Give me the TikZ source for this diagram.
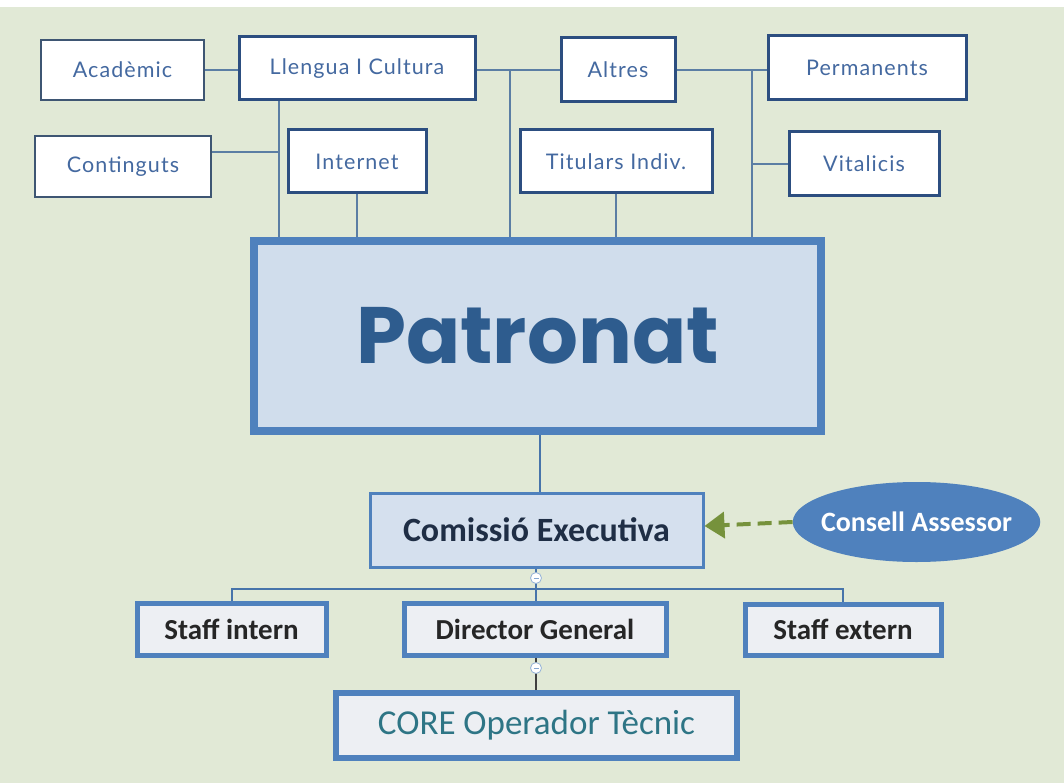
\documentclass[tikz,border=0pt]{standalone}
\usepackage{fontspec}
\setmainfont{Lato}
\newfontfamily\carfont{Carlito}
\newfontfamily\topfont[LetterSpace=5]{Lato}
\newfontfamily\patfont{Poppins}
\usetikzlibrary{arrows.meta,shapes.geometric}
\definecolor{bg}{HTML}{E1E9D6}
\definecolor{thinb}{HTML}{3E5673}
\definecolor{thickb}{HTML}{2C4E80}
\definecolor{conn}{HTML}{5B7EA4}
\definecolor{topt}{HTML}{4469A0}
\definecolor{patb}{HTML}{4F81BD}
\definecolor{patf}{HTML}{D0DDEC}
\definecolor{patt}{HTML}{2E5C8E}
\definecolor{botf}{HTML}{EDEFF3}
\definecolor{corett}{HTML}{2E7585}
\definecolor{comt}{HTML}{1F2E45}
\definecolor{arrg}{HTML}{76923C}
\begin{document}
\begin{tikzpicture}[x=1pt,y=-1pt,
  topbox/.style={draw=thickb,line width=3pt,fill=white,text=topt,font=\topfont\fontsize{21.5}{24}\selectfont,inner sep=0pt},
  thinbox/.style={draw=thinb,line width=1.8pt,fill=white,text=topt,font=\topfont\fontsize{21.5}{24}\selectfont,inner sep=0pt},
  conline/.style={draw=conn,line width=2.8pt},
  botbox/.style={draw=patb,line width=5pt,fill=botf,font=\carfont\bfseries\fontsize{29}{32}\selectfont,text=black!85,inner sep=0pt},
  minusc/.style={circle,draw=patb!60,fill=white,line width=0.8pt,minimum size=11pt,inner sep=0pt},
  thinline/.style={draw=patb!90!black,line width=1.5pt}]
\useasboundingbox (0,0) rectangle (1064,783);
\fill[white] (0,0) rectangle (1064,783);
\fill[bg] (0,7) rectangle (1064,783);

% top nodes
\node[thinbox,minimum width=163pt,minimum height=60pt] (acad) at (122.5,70) {Acadèmic};
\node[topbox,minimum width=236pt,minimum height=63pt] (llen) at (357,68.5) {Llengua I Cultura};
\node[topbox,minimum width=114pt,minimum height=64pt] (alt) at (618,70) {Altres};
\node[topbox,minimum width=198pt,minimum height=64pt] (perm) at (867,67.5) {Permanents};
\node[thinbox,minimum width=176pt,minimum height=61pt] (cont) at (123,166.5) {Continguts};
\node[topbox,minimum width=138pt,minimum height=63pt] (inet) at (357,161.5) {Internet};
\node[topbox,minimum width=192pt,minimum height=63pt] (tit) at (616,161.5) {Titulars Indiv.};
\node[topbox,minimum width=150pt,minimum height=64pt] (vit) at (864,164) {Vitalicis};

% Patronat
\node[draw=patb,line width=8pt,fill=patf,minimum width=567pt,minimum height=190pt,inner sep=0pt,
  text=patt,font=\patfont\bfseries\fontsize{80}{90}\selectfont] (pat) at (537.5,336) {Patronat};

% coordinates for junctions
\coordinate (j1) at (279,152);
\coordinate (j2) at (510,70);
\coordinate (j3) at (752,70);
\coordinate (j4) at (752,164);

% connectors top
\draw[conline] (acad.east) -- (llen.west|-acad.east);
\draw[conline] (llen.east|-alt.west) -- (alt.west);
\draw[conline] (alt.east) -- (perm.west|-alt.east);
\draw[conline] (279,0|-llen.south) -- (279,0|-pat.north);
\draw[conline] (cont.east|-j1) -- (j1);
\draw[conline] (inet.south) -- (inet.south|-pat.north);
\draw[conline] (j2) -- (j2|-pat.north);
\draw[conline] (tit.south) -- (tit.south|-pat.north);
\draw[conline] (j3) -- (j3|-pat.north);
\draw[conline] (vit.west) -- (j4);

% Comissio
\node[draw=patb,line width=3pt,fill=patf!90!white,minimum width=333pt,minimum height=74pt,inner sep=0pt,
  font=\carfont\bfseries\fontsize{34}{38}\selectfont,text=comt] (com) at (536.5,530) {Comissió Executiva};
\draw[thinline] (540,0|-pat.south) -- (540,0|-com.north);

% Consell Assessor
\node[ellipse,fill=patb,minimum width=247pt,minimum height=80pt,inner xsep=-8pt,inner ysep=0pt,text=white,
  font=\carfont\bfseries\fontsize{28}{30}\selectfont] (cons) at (916.5,522) {Consell Assessor};
\draw[arrg,line width=4pt,dash pattern=on 14pt off 7pt,-{Triangle[length=20pt,width=26pt]}] (cons.west) -- ([yshift=4pt]com.east);

% bottom row
\node[botbox,minimum width=189pt,minimum height=52pt] (si) at (231.5,629) {Staff intern};
\node[botbox,minimum width=262pt,minimum height=52pt] (dg) at (535,629) {Director General};
\node[botbox,minimum width=196pt,minimum height=51pt] (se) at (843,629.5) {Staff extern};
\coordinate (hb) at (536,589);
\draw[thinline] (com.south-|hb) -- (hb);
\draw[thinline] (si.north-|232,0) -- (232,589) -- (843,589) -- (se.north);
\draw[thinline] (hb) -- (dg.north-|hb);
\node[minusc] (m1) at (536,578) {};
\draw[patb!70,line width=0.8pt] ([xshift=-2.5pt]m1.center) -- ([xshift=2.5pt]m1.center);

\node[draw=patb,line width=6pt,fill=botf,minimum width=401pt,minimum height=65pt,inner sep=0pt,
  font=\carfont\fontsize{35}{38}\selectfont,text=corett] (core) at (536.5,725.5) {CORE Operador Tècnic};
\draw[black!75,line width=1.5pt] (dg.south-|hb) -- (core.north-|hb);
\node[minusc] (m2) at (536,668) {};
\draw[patb!70,line width=0.8pt] ([xshift=-2.5pt]m2.center) -- ([xshift=2.5pt]m2.center);
\end{tikzpicture}
\end{document}
